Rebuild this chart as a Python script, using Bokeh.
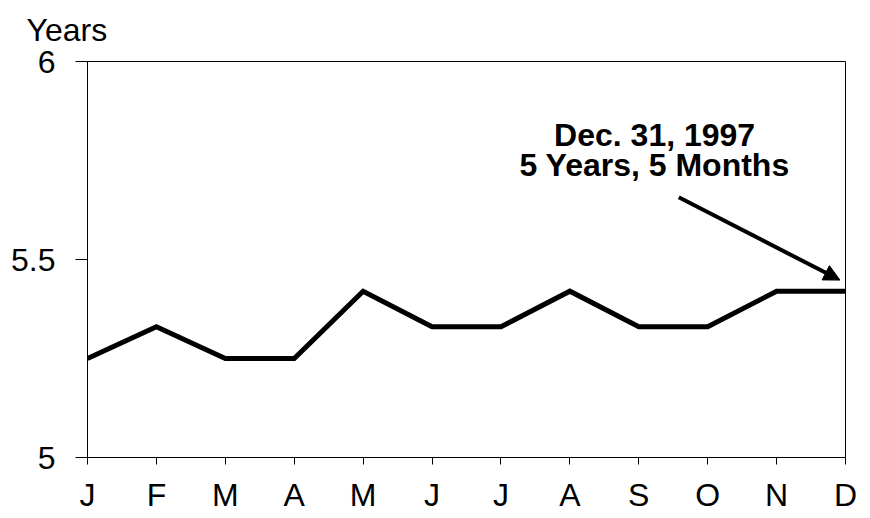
from bokeh.plotting import figure
from bokeh.models import Range1d, FixedTicker, Label, Arrow, NormalHead
from bokeh.embed import file_html
from bokeh.resources import INLINE

months = ["J", "F", "M", "A", "M", "J", "J", "A", "S", "O", "N", "D"]
years = [5.25, 5.33, 5.25, 5.25, 5.42, 5.33, 5.33, 5.42, 5.33, 5.33, 5.42, 5.42]
y_ticks = [5, 5.5, 6]
y_tick_labels = ["5", "5.5", "6"]
note_lines = ["Dec. 31, 1997", "5 Years, 5 Months"]
y_title = "Years"

xs = list(range(len(months)))

FONT = "Liberation Sans"

p = figure(width=862, height=516, output_backend="svg", toolbar_location=None,
           x_range=Range1d(0, len(months) - 1), y_range=Range1d(5, 6),
           min_border_left=87, min_border_right=17, min_border_top=61, min_border_bottom=59)

p.line(xs, years, line_color="black", line_width=5, line_join="miter")

p.grid.visible = False
p.outline_line_color = "black"
p.outline_line_width = 1
p.outline_line_alpha = 1
p.background_fill_color = "white"
p.border_fill_color = "white"

# axis title shown through the plot title (labels are clipped to the frame)
p.title.text = y_title
p.title.align = "left"
p.title.vertical_align = "top"
p.title.offset = -61
p.title.standoff = 23
p.title.text_font = FONT
p.title.text_font_size = "32px"
p.title.text_font_style = "normal"
p.title.text_color = "black"

p.xaxis.ticker = FixedTicker(ticks=xs)
p.xaxis.major_label_overrides = {i: m for i, m in enumerate(months)}
p.yaxis.ticker = FixedTicker(ticks=y_ticks)
p.yaxis.major_label_overrides = {t: l for t, l in zip(y_ticks, y_tick_labels)}

for ax in (p.xaxis, p.yaxis):
    ax.axis_line_color = "black"
    ax.axis_line_width = 1
    ax.major_tick_line_color = "black"
    ax.major_tick_line_width = 1
    ax.minor_tick_line_color = None
    ax.major_label_text_font = FONT
    ax.major_label_text_font_size = "32px"
    ax.major_label_text_color = "black"
    ax.major_tick_in = 0

p.xaxis.major_tick_out = 7
p.xaxis.major_label_standoff = 12
p.yaxis.major_tick_out = 12
p.yaxis.major_label_standoff = 20

# annotation
p.add_layout(Label(x=8.23, y=5.815, text=note_lines[0], text_font=FONT, text_font_size="32px",
                   text_font_style="bold", text_color="black", text_align="center",
                   text_baseline="alphabetic"))
p.add_layout(Label(x=8.23, y=5.738, text=note_lines[1], text_font=FONT, text_font_size="32px",
                   text_font_style="bold", text_color="black", text_align="center",
                   text_baseline="alphabetic"))

p.add_layout(Arrow(x_start=8.58, y_start=5.657, x_end=10.92, y_end=5.448,
                   line_color="black", line_width=4,
                   end=NormalHead(size=16, fill_color="black", line_color="black", line_width=1)))

open("out.html", "w").write(file_html(p, INLINE))
